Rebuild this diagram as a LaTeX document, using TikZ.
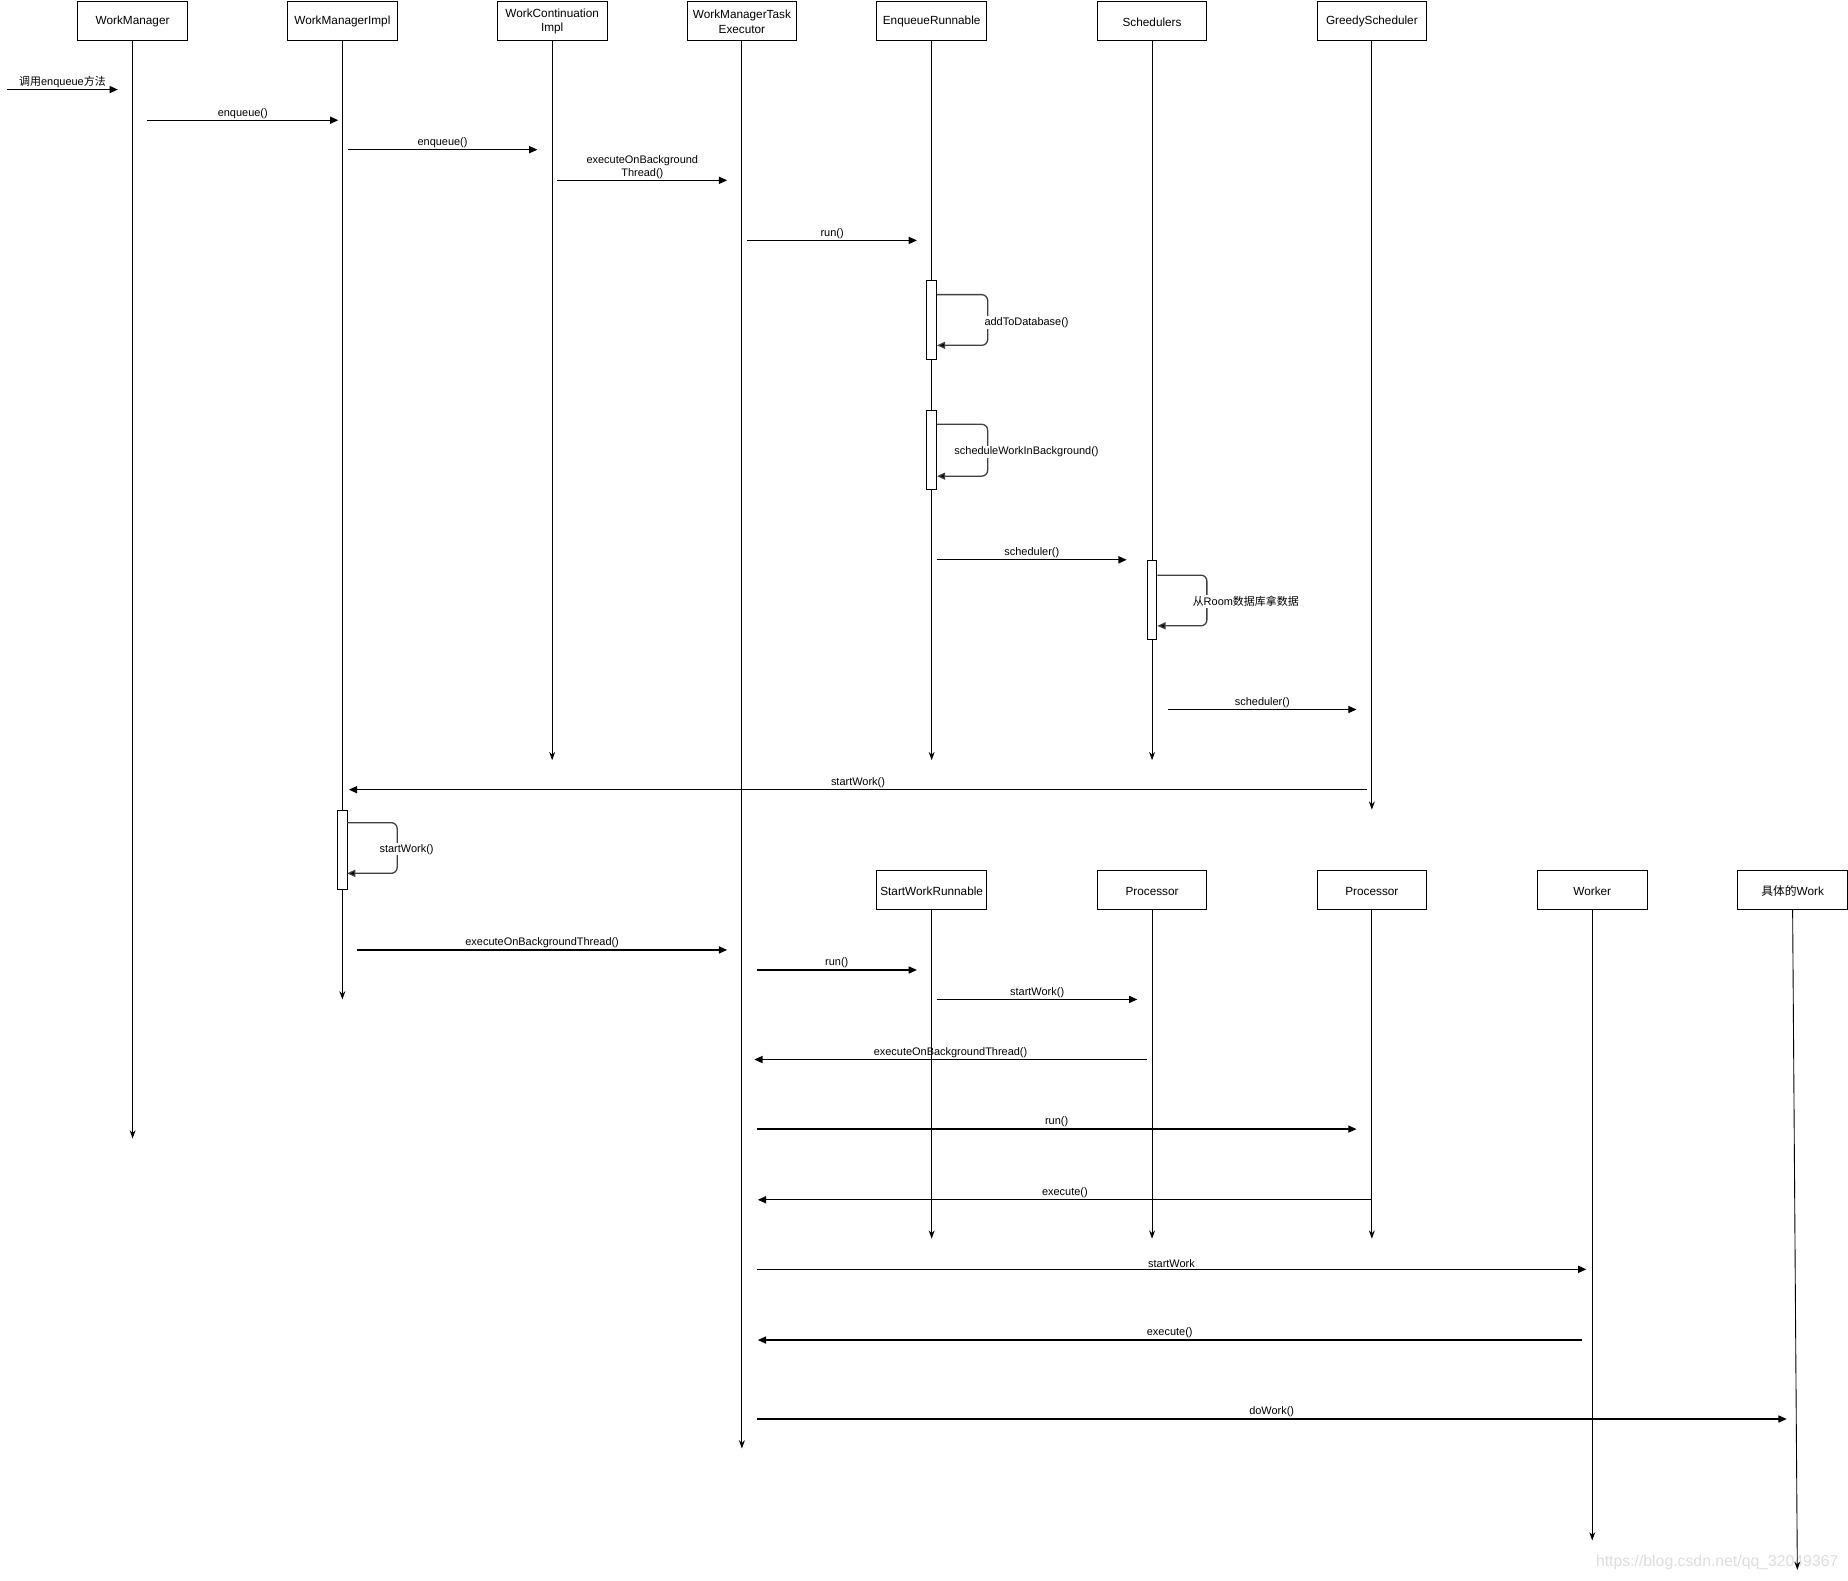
\documentclass[tikz,border=0pt]{standalone}
\usepackage{fontspec}
\setmainfont{Liberation Sans}
\newfontfamily\cjk{Noto Sans CJK SC}
\usetikzlibrary{arrows.meta}
\tikzset{
  hdr/.style={draw, line width=0.8pt, fill=white, minimum width=93pt, minimum height=33pt,
    inner sep=1pt, align=center, font=\fontsize{10}{12}\selectfont},
  hdrtext/.style={inner sep=0pt, align=center, font=\fontsize{10}{12}\selectfont},
  life/.style={line width=0.75pt, -{Stealth[length=7pt,width=5pt]}},
  msgline/.style={line width=1.1pt, -{Triangle[length=7pt,width=6pt]}},
  loopline/.style={line width=1.1pt, draw=black!75, rounded corners=5pt, -{Triangle[length=7pt,width=6pt,fill=black]}},
  lbl/.style={font=\fontsize{9.3}{11}\selectfont, inner sep=0pt, align=center},
  looplbl/.style={font=\fontsize{9.3}{11}\selectfont, inner sep=1pt, fill=white},
  actbar/.style={draw, line width=0.8pt, fill=white, minimum width=8pt, minimum height=67pt, inner sep=0pt},
}
\newcommand\msg[5]{%
  \coordinate (#1-s) at (#2,#4);
  \coordinate (#1-e) at (#3,#4);
  \draw[msgline] (#1-s) -- node[lbl, midway, above=1pt] {#5} (#1-e);}
\newcommand\hdrbox[4]{%
  \node[hdr] (#1) at (#2,#3) {\phantom{X}};
  \node[hdrtext] (#1-t) at ([yshift=-1pt]#1.center) {#4};}
\begin{document}
\begin{tikzpicture}[x=1pt, y=-1pt]
\useasboundingbox (0,0) rectangle (1568,1341);
\fill[white] (0,0) rectangle (1568,1341);
% watermark
\node[font=\fontsize{13.4}{14}\selectfont, text=black!13, anchor=west, inner sep=0pt] (wmark) at (1354,1326) {https://blog.csdn.net/qq\_32049367};
% headers row 1
\hdrbox{wm}{112.5}{17.5}{WorkManager}
\hdrbox{wmi}{290.5}{17.5}{WorkManagerImpl}
\hdrbox{wci}{468.5}{17.5}{WorkContinuation\\Impl}
\hdrbox{ex}{629.5}{17.5}{WorkManagerTask\\Executor}
\hdrbox{er}{790.5}{17.5}{EnqueueRunnable}
\hdrbox{sch}{977.5}{17.5}{Schedulers}
\hdrbox{gs}{1164}{17.5}{GreedyScheduler}
% headers row 2
\hdrbox{swr}{790.5}{755}{StartWorkRunnable}
\hdrbox{p1}{977.5}{755}{Processor}
\hdrbox{p2}{1164}{755}{Processor}
\hdrbox{wk}{1351}{755}{Worker}
\hdrbox{cw}{1521}{755}{{\cjk 具体的}Work}
% lifeline ends
\coordinate (wm-end) at (112.5,966);
\coordinate (wmi-end) at (290.5,848);
\coordinate (wci-end) at (468.5,645);
\coordinate (ex-end) at (629.5,1229);
\coordinate (er-end) at (790.5,645);
\coordinate (sch-end) at (977.5,645);
\coordinate (gs-end) at (1164,687);
\coordinate (swr-end) at (790.5,1051);
\coordinate (p1-end) at (977.5,1051);
\coordinate (p2-end) at (1164,1051);
\coordinate (wk-end) at (1351,1307);
\coordinate (cw-end) at (1525,1332);
\foreach \n in {wm,wmi,wci,ex,er,sch,gs,swr,p1,p2,wk,cw}{
  \draw[life] (\n.south) -- (\n-end);
}
% activation bars
\node[actbar] (a1) at (790.5,271.5) {};
\node[actbar] (a2) at (790.5,381.5) {};
\node[actbar] (a3) at (977.5,509) {};
\node[actbar] (a4) at (290.5,721) {};
% self loops
\coordinate (l1s) at (795,250); \coordinate (l1a) at (838,250);
\coordinate (l1b) at (838,293); \coordinate (l1e) at (795,293);
\draw[loopline] (l1s) -- (l1a) -- (l1b) -- (l1e);
\node[looplbl] (t1) at (871,273.5) {addToDatabase()};
\coordinate (l2s) at (795,360); \coordinate (l2a) at (838,360);
\coordinate (l2b) at (838,404); \coordinate (l2e) at (795,404);
\draw[loopline] (l2s) -- (l2a) -- (l2b) -- (l2e);
\node[looplbl] (t2) at (871,383.5) {scheduleWorkInBackground()};
\coordinate (l3s) at (982,488); \coordinate (l3a) at (1024,488);
\coordinate (l3b) at (1024,531); \coordinate (l3e) at (982,531);
\draw[loopline] (l3s) -- (l3a) -- (l3b) -- (l3e);
\node[looplbl] (t3) at (1057,510.5) {{\cjk 从}Room{\cjk 数据库拿数据}};
\coordinate (l4s) at (294.5,698); \coordinate (l4a) at (337,698);
\coordinate (l4b) at (337,741); \coordinate (l4e) at (294.5,741);
\draw[loopline] (l4s) -- (l4a) -- (l4b) -- (l4e);
\node[looplbl] (t4) at (345,720.5) {startWork()};
% messages
\msg{m0}{6}{100}{76}{{\cjk 调用}enqueue{\cjk 方法}}
\msg{m1}{125}{287}{102}{enqueue()}
\msg{m2}{295}{456}{127}{enqueue()}
\msg{m3}{473}{617}{153}{executeOnBackground\\Thread()}
\msg{m4}{634}{778}{204}{run()}
\msg{m5}{795}{956}{475}{scheduler()}
\msg{m6}{991}{1151}{602}{scheduler()}
\msg{m7}{1160}{296}{670}{startWork()}
\msg{m8}{303}{617}{806}{executeOnBackgroundThread()}
\msg{m9}{642}{778}{823}{run()}
\msg{m10}{795}{965}{848}{startWork()}
\msg{m11}{973}{640}{899}{executeOnBackgroundThread()}
\msg{m12}{642}{1151}{958}{run()}
\msg{m13}{1164}{643}{1018}{execute()}
\msg{m14}{642}{1346}{1077}{startWork}
\msg{m15}{1342}{643}{1137}{execute()}
\msg{m16}{642}{1516}{1204}{doWork()}
\end{tikzpicture}
\end{document}
